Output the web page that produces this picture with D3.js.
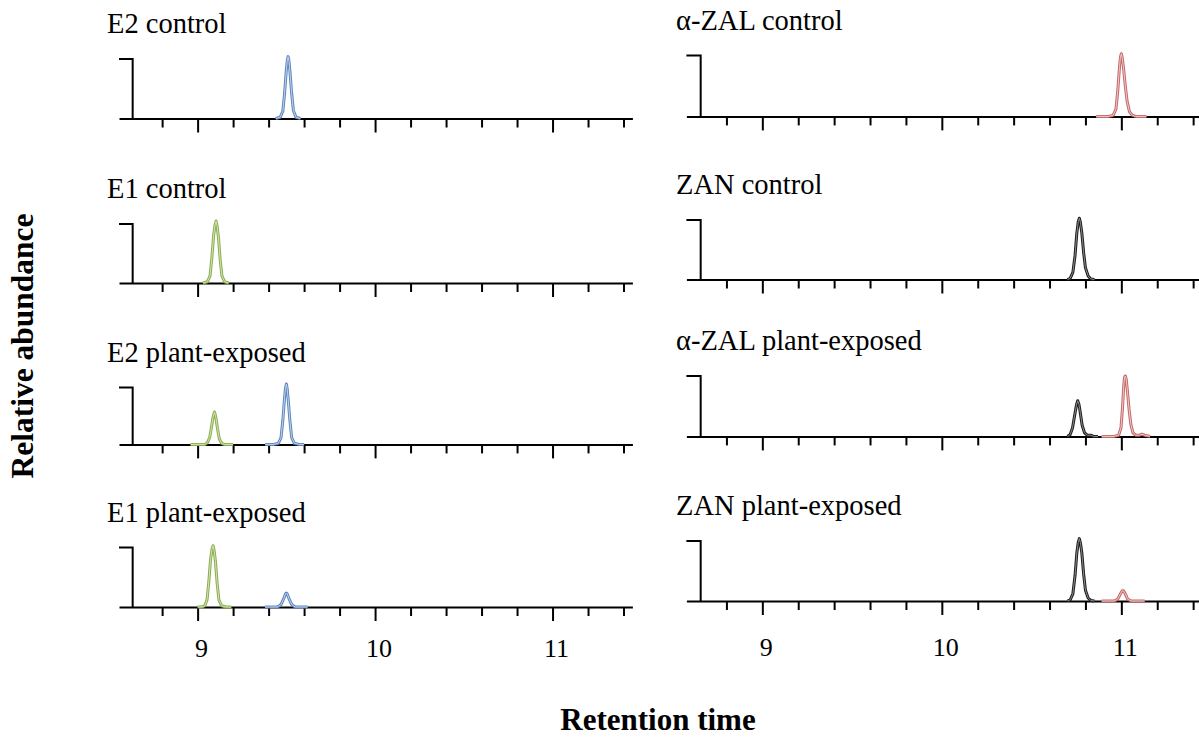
<!DOCTYPE html>
<html>
<head>
<meta charset="utf-8">
<script src="https://cdn.jsdelivr.net/npm/d3@7/dist/d3.min.js"></script>
<style>
  html, body { margin: 0; padding: 0; background: #fff; }
  svg { display: block; }
</style>
</head>
<body>
<svg id="chart" width="1199" height="738"></svg>
<script>
// ---------------- DATA ----------------
const panelTitles = [
  "E2 control", "E1 control", "E2 plant-exposed", "E1 plant-exposed",
  "\u03B1-ZAL control", "ZAN control", "\u03B1-ZAL plant-exposed", "ZAN plant-exposed"
];
const tickValues = [8.8, 9.0, 9.2, 9.4, 9.6, 9.8, 10.0, 10.2, 10.4, 10.6, 10.8, 11.0, 11.2, 11.4];
const majorTicks = [9, 10, 11];
const tickLabels = ["9", "10", "11"];
const axisTitleX = "Retention time";
const axisTitleY = "Relative abundance";

// [retention time, relative intensity]
const e2ControlBlue = [[9.44,0],[9.465,0.02],[9.48,0.12],[9.49,0.42],[9.50,0.82],[9.505,0.97],[9.51,1.04],[9.515,0.96],[9.52,0.80],[9.53,0.42],[9.54,0.13],[9.555,0.02],[9.58,0]];
const e1ControlGreen = [[9.03,0],[9.055,0.02],[9.07,0.12],[9.08,0.42],[9.09,0.80],[9.098,0.98],[9.104,1.05],[9.11,0.96],[9.117,0.78],[9.127,0.40],[9.137,0.12],[9.152,0.02],[9.175,0]];
const e2PlantGreen = [[8.96,0],[9.04,0],[9.055,0.03],[9.068,0.12],[9.078,0.30],[9.087,0.48],[9.095,0.57],[9.103,0.47],[9.112,0.28],[9.122,0.10],[9.135,0.02],[9.15,0],[9.2,0]];
const e2PlantBlue = [[9.38,0],[9.43,0],[9.455,0.02],[9.47,0.12],[9.48,0.42],[9.49,0.82],[9.495,0.98],[9.50,1.06],[9.505,0.97],[9.51,0.80],[9.52,0.42],[9.53,0.12],[9.545,0.02],[9.57,0],[9.60,0]];
const e1PlantGreen = [[9.0,0],[9.02,0],[9.04,0.02],[9.053,0.12],[9.063,0.42],[9.073,0.80],[9.081,0.97],[9.087,1.03],[9.093,0.95],[9.1,0.78],[9.11,0.40],[9.12,0.12],[9.135,0.02],[9.16,0],[9.19,0]];
const e1PlantBlue = [[9.38,0],[9.45,0],[9.47,0.04],[9.485,0.14],[9.495,0.22],[9.50,0.235],[9.505,0.22],[9.515,0.14],[9.53,0.04],[9.55,0],[9.62,0]];

const azalControlRed = [[10.86,0],[10.93,0],[10.955,0.02],[10.97,0.12],[10.98,0.42],[10.99,0.82],[10.995,0.97],[11.0,1.03],[11.005,0.96],[11.012,0.80],[11.022,0.50],[11.032,0.25],[11.045,0.08],[11.06,0.02],[11.08,0],[11.14,0]];
const zanControlBlack = [[10.70,0],[10.715,0.02],[10.73,0.12],[10.742,0.40],[10.752,0.78],[10.76,0.97],[10.766,1.03],[10.772,0.96],[10.78,0.78],[10.79,0.45],[10.80,0.20],[10.815,0.06],[10.83,0.01],[10.85,0]];
const azalPlantBlack = [[10.70,0],[10.715,0.03],[10.728,0.14],[10.74,0.35],[10.75,0.52],[10.757,0.59],[10.764,0.53],[10.772,0.38],[10.782,0.18],[10.795,0.06],[10.81,0.02],[10.83,0.02],[10.845,0],[10.87,0]];
const azalPlantRed = [[10.89,0],[10.96,0],[10.985,0.02],[10.998,0.14],[11.006,0.45],[11.013,0.82],[11.018,0.98],[11.022,1.0],[11.027,0.95],[11.034,0.75],[11.043,0.45],[11.053,0.20],[11.065,0.06],[11.08,0.02],[11.1,0.02],[11.115,0.035],[11.13,0.02],[11.16,0]];
const zanPlantBlack = [[10.70,0],[10.715,0.02],[10.73,0.12],[10.742,0.42],[10.752,0.80],[10.76,0.98],[10.766,1.04],[10.772,0.97],[10.78,0.80],[10.79,0.45],[10.80,0.18],[10.815,0.05],[10.83,0.01],[10.85,0]];
const zanPlantRed = [[10.89,0],[10.96,0],[10.98,0.03],[10.995,0.12],[11.005,0.17],[11.012,0.17],[11.022,0.12],[11.035,0.03],[11.055,0],[11.13,0]];

const panelTraces = [
  [["blue", e2ControlBlue]],
  [["green", e1ControlGreen]],
  [["green", e2PlantGreen], ["blue", e2PlantBlue]],
  [["green", e1PlantGreen], ["blue", e1PlantBlue]],
  [["red", azalControlRed]],
  [["black", zanControlBlack]],
  [["black", azalPlantBlack], ["red", azalPlantRed]],
  [["black", zanPlantBlack], ["red", zanPlantRed]]
];

// ---------------- STYLE / LAYOUT ----------------
const colors = {
  blue:  { outer: "#5f86bd", inner: "#c3d3ea" },
  green: { outer: "#8cad4f", inner: "#d3e3b5" },
  red:   { outer: "#c46868", inner: "#efcaca" },
  black: { outer: "#1e1e1e", inner: "#8a8a8a" }
};
const serif = "'Liberation Serif', 'Times New Roman', Times, serif";

const columns = [
  { domain: [8.557, 11.45], range: [119, 632.4], bracketT: 8.634, titleX: 107, labelY: 657 },
  { domain: [8.577, 11.47], range: [686.4, 1205.7], bracketT: 8.6565, titleX: 676, labelY: 656 }
];
// [top of bracket, baseline]
const rowGeom = [
  [[59, 118.5], [224, 283], [387.5, 444.4], [547.5, 607]],
  [[55.5, 116.4], [220, 279.5], [376, 436.4], [541, 601]]
];

const svg = d3.select("#chart");
svg.append("rect").attr("width", 1199).attr("height", 738).attr("fill", "#fff");

panelTitles.forEach((title, i) => {
  const c = Math.floor(i / 4), r = i % 4;
  const col = columns[c];
  const [top, base] = rowGeom[c][r];
  const x = d3.scaleLinear().domain(col.domain).range(col.range);
  const y = d3.scaleLinear().domain([0, 1]).range([base, top]);
  const g = svg.append("g");

  // title
  g.append("text")
    .attr("x", col.titleX).attr("y", top - 26)
    .attr("font-family", serif).attr("font-size", 28.5).attr("fill", "#000")
    .text(title);

  // x axis (baseline + ticks)
  const axis = d3.axisBottom(x).tickValues(tickValues).tickSize(9).tickSizeOuter(0).tickFormat("");
  const ag = g.append("g").attr("transform", `translate(0,${base})`).call(axis);
  ag.select(".domain").attr("stroke", "#000").attr("stroke-width", 2);
  ag.selectAll(".tick line").attr("stroke", "#000").attr("stroke-width", 2)
    .attr("y2", d => majorTicks.some(m => Math.abs(m - d) < 1e-9) ? 14 : 9);

  // y bracket
  const bx = x(col.bracketT);
  g.append("path")
    .attr("d", `M${col.range[0]},${y(1)}H${bx}V${base}`)
    .attr("fill", "none").attr("stroke", "#000").attr("stroke-width", 2);

  // traces
  const line = d3.line().x(d => x(d[0])).y(d => y(d[1]));
  panelTraces[i].forEach(([key, data]) => {
    g.append("path").attr("d", line(data)).attr("fill", "none")
      .attr("stroke", colors[key].outer).attr("stroke-width", 3).attr("stroke-linejoin", "round");
    g.append("path").attr("d", line(data)).attr("fill", "none")
      .attr("stroke", colors[key].inner).attr("stroke-width", 1).attr("stroke-linejoin", "round");
  });

  // tick labels on bottom row
  if (r === 3) {
    g.selectAll("text.tl").data(majorTicks).enter().append("text")
      .attr("class", "tl")
      .attr("x", d => x(d) + 4).attr("y", col.labelY)
      .attr("text-anchor", "middle")
      .attr("font-family", serif).attr("font-size", 26).attr("fill", "#000")
      .text((d, k) => tickLabels[k]);
  }
});

// axis titles
svg.append("text")
  .attr("x", 658).attr("y", 730)
  .attr("text-anchor", "middle")
  .attr("font-family", serif).attr("font-size", 31).attr("font-weight", "bold")
  .text(axisTitleX);
svg.append("text")
  .attr("transform", "translate(33,346) rotate(-90)")
  .attr("text-anchor", "middle")
  .attr("font-family", serif).attr("font-size", 31.5).attr("font-weight", "bold")
  .text(axisTitleY);
</script>
</body>
</html>
